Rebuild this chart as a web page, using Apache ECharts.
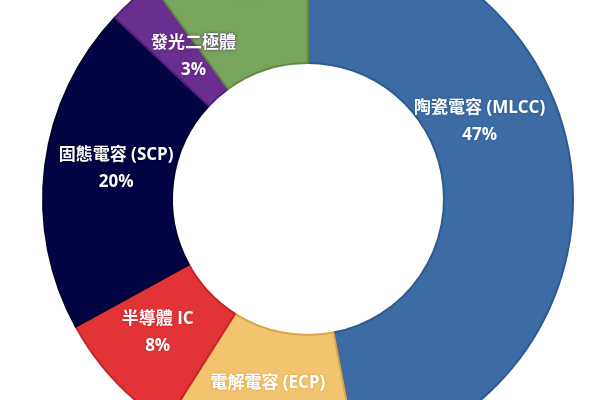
<!DOCTYPE html>
<html>
<head>
<meta charset="utf-8">
<script src="https://cdn.jsdelivr.net/npm/echarts@6/dist/echarts.min.js"></script>
<style>
  html, body { margin: 0; padding: 0; background: #fff; }
  #chart { width: 600px; height: 400px; }
</style>
</head>
<body>
<div id="chart"></div>
<script>
// 各類零件占比 (%)
var names = ['陶瓷電容 (MLCC)', '電解電容 (ECP)', '半導體 IC', '固態電容 (SCP)', '發光二極體', '其他'];
var values = [47, 12, 8, 20, 3, 10];
var colors = ['#3c6ca3', '#f2c46f', '#e23437', '#020443', '#6a2e90', '#77a55c'];
var borders = ['#2c5a8f', '#dba548', '#c3262a', '#01022e', '#531f74', '#5f8c45'];

// 標籤微調 (仿 Excel 位置)
var offsets = [[-31, -58], [-2, -2], [-2, -6], [10, -5], [20, 10], [0, -26]];

var myChart = echarts.init(document.getElementById('chart'));

var data = [];
for (var i = 0; i < names.length; i++) {
    data.push({
        name: names[i],
        value: values[i],
        itemStyle: { color: colors[i], borderColor: borders[i] },
        label: { textShadowColor: borders[i], offset: offsets[i] }
    });
}

var option = {
    animation: false,
    series: [{
        type: 'pie',
        center: [308, 199],
        radius: [136, 265],
        startAngle: 90,
        clockwise: true,
        itemStyle: { borderWidth: 2 },
        label: {
            show: true,
            position: 'inside',
            formatter: '{b}\n{c}%',
            color: '#fff',
            fontSize: 17,
            fontWeight: 'bold',
            fontFamily: '"Open Sans", "Noto Sans CJK TC", sans-serif',
            lineHeight: 27,
            textShadowBlur: 3
        },
        labelLine: { show: false },
        data: data
    }]
};

myChart.setOption(option);
</script>
</body>
</html>
